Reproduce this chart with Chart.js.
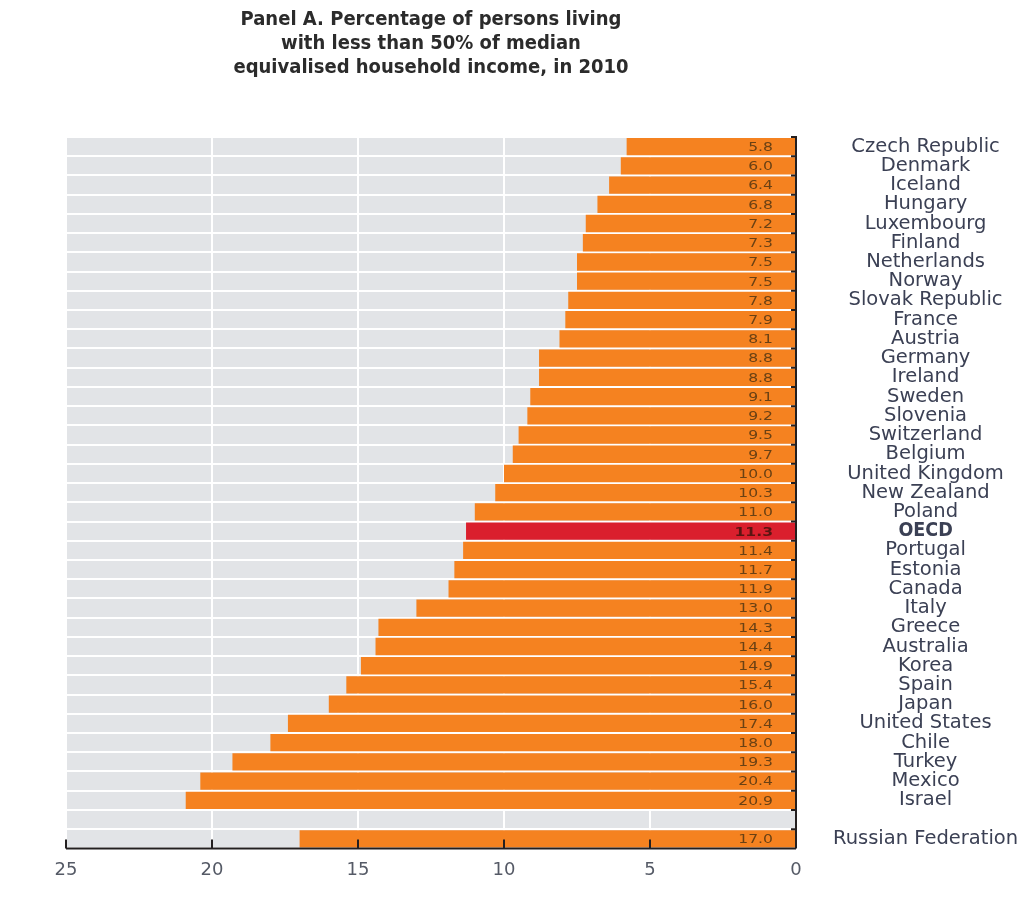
<!DOCTYPE html>
<html>
<head>
<meta charset="utf-8">
<script src="https://cdn.jsdelivr.net/npm/chart.js@4.4.1/dist/chart.umd.min.js"></script>
<style>
  html, body { margin: 0; padding: 0; background: #fff; }
  #wrap { width: 1024px; height: 900px; }
</style>
</head>
<body>
<div id="wrap"><canvas id="c" width="1024" height="900"></canvas></div>
<script>
// data
var countries = ["Czech Republic", "Denmark", "Iceland", "Hungary", "Luxembourg", "Finland",
  "Netherlands", "Norway", "Slovak Republic", "France", "Austria", "Germany", "Ireland",
  "Sweden", "Slovenia", "Switzerland", "Belgium", "United Kingdom", "New Zealand", "Poland",
  "OECD", "Portugal", "Estonia", "Canada", "Italy", "Greece", "Australia", "Korea", "Spain",
  "Japan", "United States", "Chile", "Turkey", "Mexico", "Israel", "", "Russian Federation"];
var poverty = [5.8, 6.0, 6.4, 6.8, 7.2, 7.3, 7.5, 7.5, 7.8, 7.9, 8.1, 8.8, 8.8, 9.1, 9.2, 9.5,
  9.7, 10.0, 10.3, 11.0, 11.3, 11.4, 11.7, 11.9, 13.0, 14.3, 14.4, 14.9, 15.4, 16.0, 17.4,
  18.0, 19.3, 20.4, 20.9, null, 17.0];
var xTicks = [25, 20, 15, 10, 5, 0];
var titleLines = ["Panel A. Percentage of persons living", "with less than 50% of median",
  "equivalised household income, in 2010"];

var ORANGE = "#f58220", RED = "#da1f2d", GREY = "#e2e4e7", INK = "#231f20";
var SANS = "'DejaVu Sans', Verdana, sans-serif";

var barColors = countries.map(function (c) { return c === "OECD" ? RED : ORANGE; });

// grey panel behind the bars
var panelBg = {
  id: "panelBg",
  beforeDraw: function (chart) {
    var a = chart.chartArea, ctx = chart.ctx;
    ctx.save();
    ctx.fillStyle = GREY;
    ctx.fillRect(a.left, a.top, a.right - a.left, a.bottom - a.top);
    ctx.restore();
  }
};

// axis lines, inward ticks and value labels
var decor = {
  id: "decor",
  afterDatasetsDraw: function (chart) {
    var ctx = chart.ctx, a = chart.chartArea;
    var x = chart.scales.x;
    var x0 = x.getPixelForValue(0);
    ctx.save();
    ctx.strokeStyle = INK;
    ctx.lineWidth = 2;
    ctx.beginPath();
    ctx.moveTo(x0, a.top);
    ctx.lineTo(x0, a.bottom);
    ctx.moveTo(x.getPixelForValue(25), a.bottom);
    ctx.lineTo(x0, a.bottom);
    // row boundaries on the right axis
    var step = (a.bottom - a.top) / countries.length;
    for (var i = 0; i < countries.length; i++) {
      var yy = a.top + i * step;
      ctx.moveTo(x0 - 5, yy);
      ctx.lineTo(x0 + 1, yy);
    }
    xTicks.forEach(function (v) {
      if (v === 0) return;
      var px = x.getPixelForValue(v);
      ctx.moveTo(px, a.bottom);
      ctx.lineTo(px, a.bottom - 9);
    });
    ctx.stroke();

    // value labels
    var meta = chart.getDatasetMeta(0);
    ctx.textAlign = "right";
    ctx.textBaseline = "middle";
    meta.data.forEach(function (bar, i) {
      if (poverty[i] === null) return;
      var oecd = countries[i] === "OECD";
      ctx.save();
      ctx.translate(x0 - 23, bar.y + 1);
      ctx.scale(1.2, 1);
      ctx.font = (oecd ? "bold " : "") + "13px " + SANS;
      ctx.fillStyle = oecd ? "#5a1512" : "#6a4114";
      ctx.fillText(poverty[i].toFixed(1), 0, 0);
      ctx.restore();
    });
    ctx.restore();
  }
};

new Chart(document.getElementById("c"), {
  type: "bar",
  data: {
    labels: countries,
    datasets: [{
      data: poverty,
      backgroundColor: barColors,
      borderWidth: 0,
      barPercentage: 0.9,
      categoryPercentage: 1.0
    }]
  },
  plugins: [panelBg, decor],
  options: {
    indexAxis: "y",
    responsive: false,
    animation: false,
    devicePixelRatio: 1,
    layout: { padding: { left: 66, right: 0, top: 0, bottom: 8 } },
    plugins: {
      legend: { display: false },
      tooltip: { enabled: false },
      title: {
        display: true,
        fullSize: false,
        text: titleLines,
        color: "#2b2b2b",
        font: { family: "'Liberation Sans Narrow', 'DejaVu Sans Condensed', Arial, sans-serif", size: 20, weight: "bold", lineHeight: 1.2 },
        padding: { top: 8, bottom: 57 }
      }
    },
    scales: {
      x: {
        type: "linear",
        reverse: true,
        min: 0,
        max: 25,
        border: { display: false },
        grid: { color: "#ffffff", lineWidth: 2, drawTicks: false },
        ticks: {
          stepSize: 5,
          padding: 11,
          color: "#555a66",
          font: { family: SANS, size: 18 }
        }
      },
      y: {
        position: "right",
        border: { display: false },
        grid: { color: "#ffffff", lineWidth: 2, offset: true, drawTicks: false },
        ticks: {
          autoSkip: false,
          crossAlign: "center",
          padding: 37,
          color: "#3b4054",
          font: function (ctx) {
            var bold = ctx.tick && ctx.tick.label === "OECD";
            return { family: bold ? "'DejaVu Sans Condensed', " + SANS : SANS, size: 19.5, weight: bold ? "bold" : "normal", lineHeight: 1 };
          }
        },
        afterFit: function (scale) { scale.width = 228; }
      }
    }
  }
});
</script>
</body>
</html>
